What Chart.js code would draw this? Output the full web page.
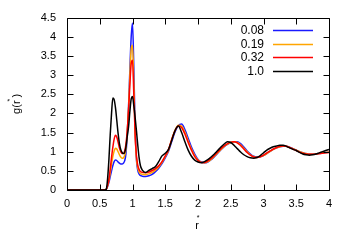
<!DOCTYPE html>
<html>
<head>
<meta charset="utf-8">
<script src="https://cdn.jsdelivr.net/npm/chart.js@4.4.0/dist/chart.umd.min.js"></script>
<style>
  body { margin: 0; background: #fff; }
  canvas { display: block; }
</style>
</head>
<body>
<canvas id="chart" width="354" height="248"></canvas>
<script>
// r* grid shared by all curves
const r = [
  0, 0.5, 0.58, 0.6, 0.62, 0.64, 0.66, 0.68, 0.7, 0.72,
  0.74, 0.76, 0.78, 0.8, 0.82, 0.84, 0.86, 0.88, 0.9, 0.92,
  0.94, 0.96, 0.98, 1.0, 1.02, 1.04, 1.06, 1.08, 1.1, 1.12,
  1.15, 1.2, 1.25, 1.3, 1.35, 1.4, 1.45, 1.5, 1.55, 1.6,
  1.65, 1.7, 1.75, 1.8, 1.85, 1.9, 1.95, 2.0, 2.05, 2.1,
  2.15, 2.2, 2.25, 2.3, 2.35, 2.4, 2.45, 2.5, 2.55, 2.6,
  2.65, 2.7, 2.75, 2.8, 2.85, 2.9, 2.95, 3.0, 3.05, 3.1,
  3.15, 3.2, 3.25, 3.3, 3.35, 3.4, 3.45, 3.5, 3.55, 3.6,
  3.65, 3.7, 3.75, 3.8, 3.85, 3.9, 3.95, 4.0
];

const g008 = [
  0, 0, 0, 0.02, 0.09, 0.2, 0.35, 0.5, 0.64, 0.74,
  0.78, 0.77, 0.73, 0.7, 0.68, 0.68, 0.7, 0.76, 0.95, 1.45,
  2.2, 3.15, 4.0, 4.36, 3.2, 1.65, 0.8, 0.52, 0.42, 0.38,
  0.36, 0.35, 0.37, 0.41, 0.48, 0.57, 0.69, 0.84, 1.01, 1.27,
  1.52, 1.68, 1.72, 1.58, 1.35, 1.12, 0.94, 0.8, 0.73, 0.71,
  0.73, 0.79, 0.87, 0.96, 1.05, 1.13, 1.19, 1.23, 1.26, 1.26,
  1.21, 1.12, 1.02, 0.94, 0.88, 0.86, 0.87, 0.9, 0.95, 1.01,
  1.06, 1.1, 1.13, 1.14, 1.14, 1.12, 1.08, 1.04, 1.0, 0.97,
  0.95, 0.93, 0.93, 0.94, 0.95, 0.97, 0.98, 0.99
];

const g019 = [
  0, 0, 0, 0.02, 0.11, 0.25, 0.45, 0.68, 0.88, 1.02,
  1.09, 1.07, 1.0, 0.92, 0.86, 0.83, 0.84, 0.9, 1.08, 1.5,
  2.15, 3.0, 3.68, 3.78, 2.8, 1.5, 0.82, 0.58, 0.48, 0.43,
  0.41, 0.4, 0.42, 0.46, 0.52, 0.6, 0.72, 0.87, 1.04, 1.32,
  1.56, 1.69, 1.67, 1.51, 1.28, 1.07, 0.9, 0.78, 0.72, 0.71,
  0.74, 0.8, 0.88, 0.97, 1.06, 1.14, 1.2, 1.24, 1.26, 1.24,
  1.18, 1.09, 1.0, 0.92, 0.87, 0.85, 0.87, 0.9, 0.95, 1.01,
  1.06, 1.1, 1.13, 1.15, 1.14, 1.11, 1.08, 1.04, 1.0, 0.97,
  0.95, 0.93, 0.93, 0.94, 0.95, 0.97, 0.98, 0.99
];

const g032 = [
  0, 0, 0, 0.02, 0.12, 0.28, 0.55, 0.85, 1.12, 1.33,
  1.43, 1.38, 1.25, 1.1, 1.0, 0.95, 0.95, 1.02, 1.2, 1.55,
  2.1, 2.75, 3.3, 3.39, 2.5, 1.45, 0.9, 0.65, 0.54, 0.48,
  0.46, 0.45, 0.47, 0.51, 0.56, 0.63, 0.74, 0.89, 1.06, 1.33,
  1.55, 1.67, 1.63, 1.46, 1.24, 1.04, 0.87, 0.77, 0.72, 0.72,
  0.76, 0.82, 0.9, 0.99, 1.08, 1.15, 1.21, 1.25, 1.26, 1.23,
  1.16, 1.07, 0.98, 0.91, 0.86, 0.85, 0.87, 0.91, 0.97, 1.02,
  1.07, 1.11, 1.14, 1.15, 1.14, 1.11, 1.07, 1.03, 0.99, 0.96,
  0.94, 0.93, 0.93, 0.94, 0.95, 0.96, 0.97, 0.98
];

const g100 = [
  0, 0, 0, 0.02, 0.3, 0.8, 1.45, 2.0, 2.4, 2.36,
  2.15, 1.82, 1.48, 1.22, 1.06, 0.98, 0.95, 0.98, 1.12, 1.4,
  1.65, 2.05, 2.38, 2.44, 2.2, 1.9, 1.55, 1.18, 0.85, 0.64,
  0.52, 0.46, 0.51, 0.56, 0.61, 0.74, 0.89, 0.96, 1.06, 1.3,
  1.55, 1.67, 1.5, 1.26, 1.04, 0.88, 0.78, 0.73, 0.71, 0.74,
  0.79, 0.86, 0.94, 1.03, 1.12, 1.2, 1.26, 1.24, 1.17, 1.08,
  0.99, 0.92, 0.87, 0.84, 0.83, 0.85, 0.9, 0.97, 1.04, 1.09,
  1.13, 1.15, 1.17, 1.17, 1.14, 1.1, 1.06, 1.03, 0.98, 0.94,
  0.92, 0.91, 0.92, 0.94, 0.97, 1.0, 1.03, 1.06
];

const seriesLabels = ['0.08', '0.19', '0.32', '1.0'];
const seriesColors = ['#1a1aff', '#ffa500', '#ff0000', '#000000'];
const seriesValues = [g008, g019, g032, g100];

const FONT = 'Liberation Sans, Arial, sans-serif';

const toPoints = (ys) => r.map((x, i) => ({ x: x, y: ys[i] }));

// gnuplot style frame with inward ticks, legend and axis titles
const gnuplotFrame = {
  id: 'gnuplotFrame',
  afterDatasetsDraw(chart) {
    const { ctx, chartArea, scales } = chart;
    const { left, right, top, bottom } = chartArea;
    const L = Math.round(left) + 0.5, R = Math.round(right) + 0.5;
    const T = Math.round(top) + 0.5, B = Math.round(bottom) + 0.5;
    const tick = 6;
    ctx.save();
    ctx.strokeStyle = '#000';
    ctx.lineWidth = 1;
    ctx.beginPath();
    ctx.rect(L, T, R - L, B - T);
    scales.x.ticks.forEach(t => {
      const px = Math.round(scales.x.getPixelForValue(t.value)) + 0.5;
      ctx.moveTo(px, B); ctx.lineTo(px, B - tick);
      ctx.moveTo(px, T); ctx.lineTo(px, T + tick);
    });
    scales.y.ticks.forEach(t => {
      const py = Math.round(scales.y.getPixelForValue(t.value)) + 0.5;
      ctx.moveTo(L, py); ctx.lineTo(L + tick, py);
      ctx.moveTo(R, py); ctx.lineTo(R - tick, py);
    });
    ctx.stroke();

    // legend: label right aligned, sample line after it
    ctx.font = '12px ' + FONT;
    ctx.textAlign = 'right';
    ctx.textBaseline = 'middle';
    seriesLabels.forEach((lab, i) => {
      const y = 30 + i * 13.7;
      ctx.fillStyle = '#000';
      ctx.fillText(lab, 264, y + 0.5);
      ctx.strokeStyle = seriesColors[i];
      ctx.lineWidth = 1.5;
      ctx.beginPath();
      ctx.moveTo(273, Math.round(y) + 0.5);
      ctx.lineTo(313, Math.round(y) + 0.5);
      ctx.stroke();
    });

    // axis titles
    ctx.fillStyle = '#000';
    ctx.textAlign = 'center';
    ctx.textBaseline = 'alphabetic';
    const cx = (left + right) / 2;
    ctx.font = '11px ' + FONT;
    ctx.fillText('r', cx - 1, 229);
    ctx.font = '7px ' + FONT;
    ctx.fillText('*', cx, 220);

    ctx.translate(20, (top + bottom) / 2);
    ctx.rotate(-Math.PI / 2);
    ctx.font = '11px ' + FONT;
    ctx.textAlign = 'left';
    const w1 = ctx.measureText('g(r').width;
    const w2 = ctx.measureText(' )').width;
    const x0 = -(w1 + w2) / 2;
    ctx.fillText('g(r', x0, 0);
    ctx.fillText(' )', x0 + w1, 0);
    ctx.font = '7px ' + FONT;
    ctx.fillText('*', x0 + w1 - 1, -8);
    ctx.restore();
  }
};

new Chart(document.getElementById('chart'), {
  type: 'line',
  data: {
    datasets: seriesValues.map((ys, i) => ({
      label: seriesLabels[i],
      data: toPoints(ys),
      borderColor: seriesColors[i],
      borderWidth: 1.5,
      pointRadius: 0,
      fill: false,
      cubicInterpolationMode: 'monotone',
      order: 4 - i
    }))
  },
  options: {
    responsive: false,
    animation: false,
    layout: { padding: { left: 0, right: 25, top: 17, bottom: 0 } },
    plugins: {
      legend: { display: false },
      tooltip: { enabled: false }
    },
    scales: {
      x: {
        type: 'linear',
        min: 0,
        max: 4,
        grid: { display: false, drawTicks: false },
        border: { display: false },
        ticks: {
          stepSize: 0.5,
          autoSkip: false,
          maxRotation: 0,
          padding: 7,
          color: '#000',
          font: { family: FONT, size: 11 },
          callback: v => String(v)
        },
        afterFit: scale => { scale.height = 58; }
      },
      y: {
        type: 'linear',
        min: 0,
        max: 4.5,
        grid: { display: false, drawTicks: false },
        border: { display: false },
        ticks: {
          stepSize: 0.5,
          autoSkip: false,
          padding: 11,
          color: '#000',
          font: { family: FONT, size: 11 },
          callback: v => String(v)
        },
        afterFit: scale => { scale.width = 67; }
      }
    }
  },
  plugins: [gnuplotFrame]
});
</script>
</body>
</html>
